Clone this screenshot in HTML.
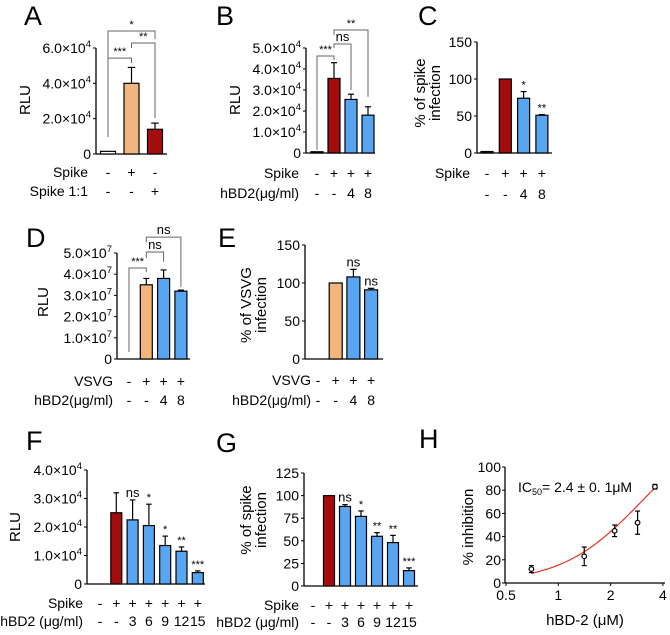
<!DOCTYPE html>
<html><head><meta charset="utf-8">
<style>
html,body{margin:0;padding:0;background:#fff;}
svg{display:block;font-family:"Liberation Sans",Arial,sans-serif;}
</style></head>
<body>
<svg id="fig" width="670" height="635" viewBox="0 0 670 635" xmlns="http://www.w3.org/2000/svg"></svg>
<script>
// ---------- DATA ----------
const aValues=[1500,40000,14000];      const aErr=[0,49000,17500];
const bValues=[600,35500,25500,18000]; const bErr=[0,43000,28000,22000];
const cValues=[2,100,74,51];           const cErr=[0,100,83,52];
const cSig=["","","*","**"];
const dValues=[0,35000000,38000000,32000000]; const dErr=[0,38000000,42000000,32500000];
const eValues=[0,100,108,91];          const eErr=[0,100,118,93];
const eSig=["","","ns","ns"];
const fValues=[0,25000,22500,20500,13500,11500,4000];
const fErr=[0,32000,29500,28000,16800,13000,4600];
const fSig=["","","ns","*","*","**","***"];
const gValues=[0,100,88,77,55,48,17];
const gErr=[0,100,90,83,59,56,20];
const gSig=["","","ns","*","**","**","***"];
const hDose=[0.70,1.41,2.11,2.86,3.6];
const hInhib=[12,23,45,52,83];
const hSd=[3,8,5,10,2];
const hIC50=3.0, hHill=1.9, hTop=140;
const sciTicksA=[[0,"0"],[20000,"2.0×10","4"],[40000,"4.0×10","4"],[60000,"6.0×10","4"]];
const sciTicksB=[[0,"0"],[10000,"1.0×10","4"],[20000,"2.0×10","4"],[30000,"3.0×10","4"],[40000,"4.0×10","4"],[50000,"5.0×10","4"]];
const ticksC=[[0,"0"],[50,"50"],[100,"100"],[150,"150"]];
const sciTicksD=[[0,"0"],[1e7,"1.0×10","7"],[2e7,"2.0×10","7"],[3e7,"3.0×10","7"],[4e7,"4.0×10","7"],[5e7,"5.0×10","7"]];
const sciTicksF=[[0,"0"],[10000,"1.0×10","4"],[20000,"2.0×10","4"],[30000,"3.0×10","4"],[40000,"4.0×10","4"]];
const ticksG=[[0,"0"],[25,"25"],[50,"50"],[75,"75"],[100,"100"],[125,"125"]];
const ticksH=[[0,"0"],[20,"20"],[40,"40"],[60,"60"],[80,"80"],[100,"100"]];
const ticksHx=[[0.5,"0.5"],[1,"1"],[2,"2"],[4,"4"]];
// brackets: [i1,i2,top,leg1,leg2,label]
const aBr=[[0,2,69600,9600,65000,"*"],[1,2,62800,60000,20400,"**"],[0,1,54300,9600,51500,"***"]];
const bBr=[[0,1,46200,1500,44300,"***"],[1,2,51900,50000,30000,"ns"],[1,3,58600,56200,26700,"**"]];
const dBr=[[0,1,42900000,3300000,41000000,"***"],[1,2,50500000,47600000,45800000,"ns"],[1,3,57500000,55000000,34000000,"ns"]];

const OR="#F2B57C", RD="#A50D0D", BL="#58A6F2", WH="#ffffff", BK="#222";
const svg=document.getElementById('fig');
const NS="http://www.w3.org/2000/svg";
function el(tag,attrs,parent){const e=document.createElementNS(NS,tag);for(const k in attrs)e.setAttribute(k,attrs[k]);(parent||svg).appendChild(e);return e;}
function txt(x,y,s,size,anchor,parent){const t=el('text',{x:x,y:y,'font-size':size,'text-anchor':anchor||'middle'},parent);t.textContent=s;return t;}

function panel(cfg){
  const g=el('g',{});
  
  
  const Y=v=>cfg.y0-(v/cfg.max)*(cfg.y0-cfg.yTop);
  const X=i=>cfg.x1+i*cfg.step;
  const L=txt(cfg.lx,cfg.ly,cfg.letter,27,'start',g);
  
  
  el('line',{x1:cfg.ax,y1:cfg.yTop,x2:cfg.ax,y2:cfg.y0,stroke:'#000','stroke-width':1.3},g);
  el('line',{x1:cfg.ax,y1:cfg.y0,x2:cfg.axEnd,y2:cfg.y0,stroke:'#000','stroke-width':1.3},g);
  cfg.ticks.forEach(t=>{
    const y=Y(t[0]);
    el('line',{x1:cfg.ax-3,y1:y,x2:cfg.ax,y2:y,stroke:'#000','stroke-width':1},g);
    const tt=txt(cfg.ax-5,y+5,t[1],14,'end',g);
    if(t[2]){const sp=el('tspan',{dy:-6,'font-size':9.5},tt);sp.textContent=t[2];}
    
    
  });
  const yt=el('text',{transform:`translate(${cfg.ytx},${cfg.yty}) rotate(-90)`,'font-size':15,'text-anchor':'middle'},g);
  
  
  if(cfg.ytitle.length===1){yt.textContent=cfg.ytitle[0];}
  else{const a=el('tspan',{x:0,dy:-2},yt);a.textContent=cfg.ytitle[0];const b=el('tspan',{x:0,dy:15},yt);b.textContent=cfg.ytitle[1];}
  cfg.values.forEach((v,i)=>{
    const x=X(i), w=cfg.bw;
    if(cfg.errs[i]>v){
      el('line',{x1:x,y1:Y(v),x2:x,y2:Y(cfg.errs[i]),stroke:'#000','stroke-width':1.2},g);
      el('line',{x1:x-w/4,y1:Y(cfg.errs[i]),x2:x+w/4,y2:Y(cfg.errs[i]),stroke:'#000','stroke-width':1.2},g);
    }
    if(v>0){
      const r=el('rect',{x:x-w/2,y:Y(v),width:w,height:cfg.y0-Y(v),fill:cfg.colors[i],stroke:'#000','stroke-width':1.2},g);
      
      
    }
    if(cfg.sig && cfg.sig[i]){
      const s=txt(x,Y(cfg.errs[i])-3,cfg.sig[i],cfg.sig[i]==='ns'?13:11,'middle',g);
      
      
    }
  });
  (cfg.brackets||[]).forEach(b=>{
    const x1=X(b[0]),x2=X(b[1]),yt2=Y(b[2]);
    el('polyline',{points:`${x1},${Y(b[3])} ${x1},${yt2} ${x2},${yt2} ${x2},${Y(b[4])}`,fill:'none',stroke:'#666','stroke-width':1},g);
    const s=txt((x1+x2)/2,yt2-3,b[5],b[5]==='ns'?13:11,'middle',g);
    
    
  });
  cfg.rows.forEach((r,ri)=>{
    const y=cfg.rowY+ri*cfg.rowGap;
    if(r[0]){const t=txt(cfg.rowRight,y,r[0],14,'end',g);
      
      }
    r[1].forEach((m,i)=>{const t=txt(X(i),y,m,14,'middle',g);
      
      });
  });
}

panel({name:'panel-a',letter:'A',lx:24,ly:25,ax:96,axEnd:167,yTop:48,y0:154,max:60000,ticks:sciTicksA,
  ytitle:['RLU'],ytx:30,yty:100,x1:108,step:23.5,bw:15,values:aValues,errs:aErr,colors:[WH,OR,RD],
  brackets:aBr,rowY:177,rowGap:19,rowRight:88,rows:[['Spike',['-','+','-']],['Spike 1:1',['-','-','+']]]});
panel({name:'panel-b',letter:'B',lx:216,ly:25,ax:306,axEnd:375,yTop:48,y0:153,max:50000,ticks:sciTicksB,
  ytitle:['RLU'],ytx:240,yty:100,x1:317,step:17,bw:12,values:bValues,errs:bErr,colors:[BK,RD,BL,BL],
  brackets:bBr,rowY:178,rowGap:20,rowRight:299,rows:[['Spike',['-','+','+','+']],['hBD2(μg/ml)',['-','-','4','8']]]});
panel({name:'panel-c',letter:'C',lx:418,ly:25,ax:477,axEnd:552,yTop:42,y0:153,max:150,ticks:ticksC,
  ytitle:['% of spike','infection'],ytx:427,yty:93,x1:487,step:18.3,bw:12,values:cValues,errs:cErr,colors:[BK,RD,BL,BL],
  sig:cSig,rowY:178,rowGap:21,rowRight:470,rows:[['Spike',['-','+','+','+']],['',['-','-','4','8']]]});
panel({name:'panel-d',letter:'D',lx:26,ly:247,ax:117,axEnd:190,yTop:253,y0:359,max:50000000,ticks:sciTicksD,
  ytitle:['RLU'],ytx:48,yty:302,x1:129,step:17.3,bw:12,values:dValues,errs:dErr,colors:[WH,OR,BL,BL],
  brackets:dBr,rowY:386,rowGap:19,rowRight:113,rows:[['VSVG',['-','+','+','+']],['hBD2(μg/ml)',['-','-','4','8']]]});
panel({name:'panel-e',letter:'E',lx:218,ly:247,ax:305,axEnd:383,yTop:245,y0:359,max:150,ticks:[[0,"0"],[50,"50"],[100,"100"],[150,"150"]],
  ytitle:['% of  VSVG','infection'],ytx:253,yty:305,x1:318,step:17.7,bw:13,values:eValues,errs:eErr,colors:[WH,OR,BL,BL],
  sig:eSig,rowY:385,rowGap:20,rowRight:311,rows:[['VSVG',['-','+','+','+']],['hBD2(μg/ml)',['-','-','4','8']]]});
panel({name:'panel-f',letter:'F',lx:26,ly:450,ax:87,axEnd:205,yTop:470,y0:584,max:40000,ticks:sciTicksF,
  ytitle:['RLU'],ytx:20,yty:527,x1:100,step:16.3,bw:11,values:fValues,errs:fErr,colors:[WH,RD,BL,BL,BL,BL,BL],
  sig:fSig,rowY:608,rowGap:18,rowRight:83,rows:[['Spike',['-','+','+','+','+','+','+']],['hBD2 (μg/ml)',['-','-','3','6','9','12','15']]]});
panel({name:'panel-g',letter:'G',lx:216,ly:452,ax:304,axEnd:418,yTop:473,y0:586,max:125,ticks:ticksG,
  ytitle:['% of spike','infection'],ytx:253,yty:520,x1:313,step:16,bw:11,values:gValues,errs:gErr,colors:[BK,RD,BL,BL,BL,BL,BL],
  sig:gSig,rowY:610,rowGap:17,rowRight:299,rows:[['Spike',['-','+','+','+','+','+','+']],['hBD2 (μg/ml)',['-','-','3','6','9','12','15']]]});

// ---------- Panel H ----------
(function(){
  const g=el('g',{});
  
  
  const ax=505, axEnd=665, yTop=467, y0=583;
  const X=d=>506+Math.log2(d/0.5)*52.3;
  const Y=v=>y0-(v/100)*(y0-yTop);
  const L=txt(419,448,'H',27,'start',g);
  
  
  el('line',{x1:ax,y1:yTop,x2:ax,y2:y0,stroke:'#000','stroke-width':1.3},g);
  el('line',{x1:ax,y1:y0,x2:axEnd,y2:y0,stroke:'#000','stroke-width':1.3},g);
  ticksH.forEach(t=>{const y=Y(t[0]);
    el('line',{x1:ax-3,y1:y,x2:ax,y2:y,stroke:'#000'},g);
    const tt=txt(ax-4,y+5,t[1],14,'end',g);
    
    });
  ticksHx.forEach(t=>{const x=X(t[0]);
    el('line',{x1:x,y1:y0,x2:x,y2:y0+3,stroke:'#000'},g);
    const tt=txt(x,y0+17,t[1],14,'middle',g);
    
    });
  const yt=el('text',{transform:'translate(473,527) rotate(-90)','font-size':15,'text-anchor':'middle'},g);
  yt.textContent='% inhibition';
  
  
  const xt=txt(585,625,'hBD-2 (μM)',15,'middle',g);
  
  
  const ic=el('text',{x:518,y:492,'font-size':14},g);
  
  
  const t1=el('tspan',{},ic);t1.textContent='IC';
  const t2=el('tspan',{dy:3,'font-size':9},ic);t2.textContent='50';
  const t3=el('tspan',{dy:-3},ic);t3.textContent='= 2.4 ±  0. 1μM';
  let pts=[];
  for(let k=0;k<=60;k++){const d=hDose[0]*Math.pow(hDose[hDose.length-1]/hDose[0],k/60);
    const v=hTop/(1+Math.pow(hIC50/d,hHill));pts.push(X(d).toFixed(1)+','+Y(v).toFixed(1));}
  const c=el('polyline',{points:pts.join(' '),fill:'none',stroke:'#E8321E','stroke-width':1.2},g);
  
  
  hDose.forEach((d,i)=>{
    const x=X(d),y=Y(hInhib[i]),ya=Y(hInhib[i]+hSd[i]),yb=Y(hInhib[i]-hSd[i]);
    el('line',{x1:x,y1:ya,x2:x,y2:yb,stroke:'#000','stroke-width':1.2},g);
    el('line',{x1:x-2.5,y1:ya,x2:x+2.5,y2:ya,stroke:'#000','stroke-width':1.2},g);
    el('line',{x1:x-2.5,y1:yb,x2:x+2.5,y2:yb,stroke:'#000','stroke-width':1.2},g);
    const p=el('circle',{cx:x,cy:y,r:2.3,fill:'#fff',stroke:'#000','stroke-width':1.2},g);
    
    
  });
})();
</script>
</body></html>
